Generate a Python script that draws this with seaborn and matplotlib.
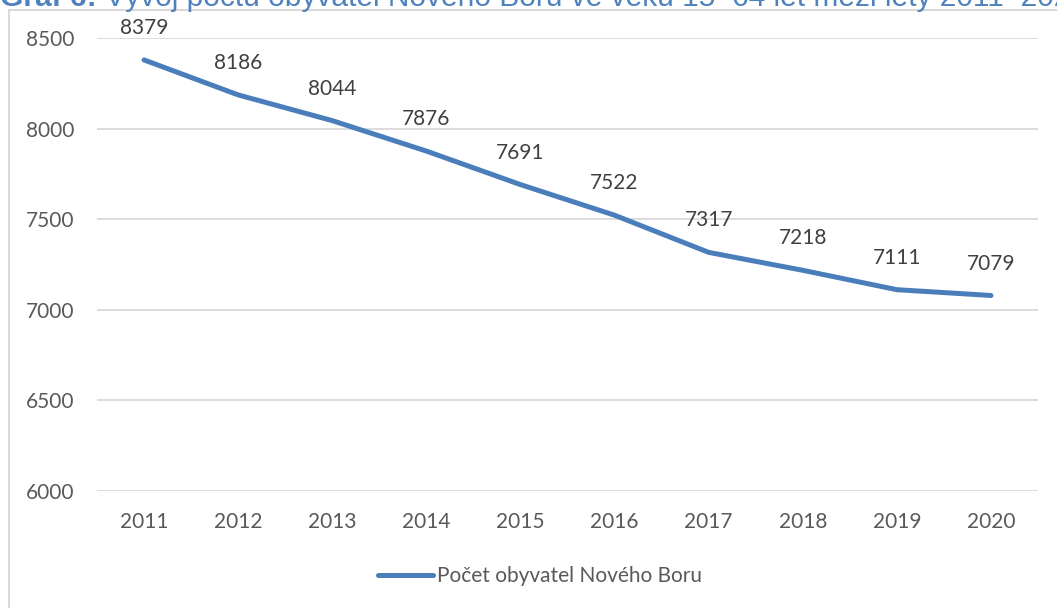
import pandas as pd
import matplotlib
matplotlib.use("Agg")
import matplotlib.pyplot as plt
import seaborn as sns
from matplotlib.lines import Line2D

# ==================================
# DATA
# ==================================
years = ["2011", "2012", "2013", "2014", "2015", "2016", "2017", "2018", "2019", "2020"]
population = [8379, 8186, 8044, 7876, 7691, 7522, 7317, 7218, 7111, 7079]
series_name = "Počet obyvatel Nového Boru"
title_bold = "Graf 6:"
title_rest = " Vývoj počtu obyvatel Nového Boru ve věku 15–64 let mezi lety 2011–2020"
y_ticks = [6000, 6500, 7000, 7500, 8000, 8500]

df = pd.DataFrame({"rok": years, "pocet": population})
df["pos"] = range(len(df))

# ==================================
# STYLE
# ==================================
sns.set_style("white")
plt.rcParams["font.family"] = ["Lato", "DejaVu Sans"]

line_color = "#4a7ebb"
grid_color = "#d9d9d9"
tick_color = "#595959"
label_color = "#404040"
fs = 15

fig = plt.figure(figsize=(10.57, 6.08), dpi=100)
ax = fig.add_axes([97 / 1057, 1 - 491 / 608, (1038 - 97) / 1057, (491 - 38) / 608])

sns.lineplot(data=df, x="pos", y="pocet", ax=ax, color=line_color,
             linewidth=3.6, solid_capstyle="round", legend=False)

ax.set_xlim(-0.5, len(years) - 0.5)
ax.set_ylim(6000, 8500)
ax.set_xticks(df["pos"])
ax.set_xticklabels(years)
ax.set_yticks(y_ticks)
ax.set_xlabel("")
ax.set_ylabel("")

ax.grid(axis="y", color=grid_color, linewidth=1.3)
ax.set_axisbelow(True)
for s in ax.spines.values():
    s.set_visible(False)
ax.tick_params(axis="both", length=0, labelsize=fs, colors=tick_color)
ax.tick_params(axis="y", pad=16)
ax.tick_params(axis="x", pad=15)

# data labels
for i, v in enumerate(population):
    ax.annotate(str(v), (i, v), xytext=(0, 23), textcoords="offset points",
                ha="center", va="center", fontsize=fs, color=label_color,
                annotation_clip=False)

# legend
handle = Line2D([], [], color=line_color, linewidth=3.6, solid_capstyle="round")
fig.legend([handle], [series_name], loc="center", bbox_to_anchor=(540 / 1057, 1 - 576 / 608),
           frameon=False, fontsize=fs, labelcolor=tick_color,
           handlelength=2.6, handletextpad=0.2)

# chart frame (border of the chart area, partly cut off)
fig.add_artist(Line2D([9 / 1057, 9 / 1057], [1 - 10 / 608, 0], transform=fig.transFigure,
                      color=grid_color, linewidth=1.5))
fig.add_artist(Line2D([9 / 1057, 1], [1 - 10 / 608, 1 - 10 / 608], transform=fig.transFigure,
                      color=grid_color, linewidth=1.5))

# title, cut off by the top edge like in the source
t = fig.text(0.0, 1 - 6 / 608, title_bold, fontsize=21.5, color="#4f81bd", fontweight="bold",
             va="baseline", ha="left", family=["Liberation Sans", "DejaVu Sans"])
fig.canvas.draw()
bb = t.get_window_extent()
fig.text(bb.x1 / fig.bbox.width, 1 - 6 / 608, title_rest, fontsize=21.5, color="#4f81bd",
         va="baseline", ha="left", family=["Liberation Sans", "DejaVu Sans"])

fig.savefig("out.png", dpi=100)
